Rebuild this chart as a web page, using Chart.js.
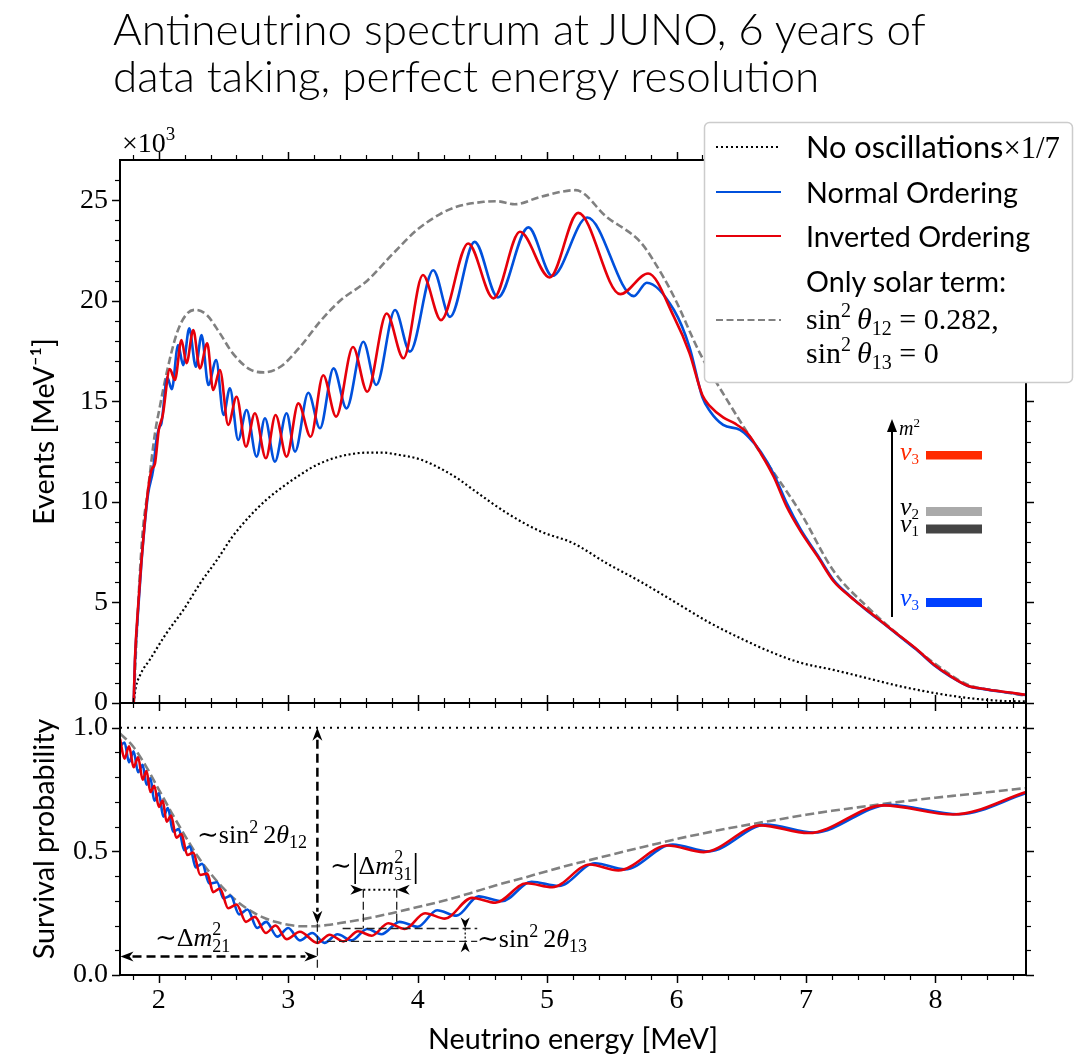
<!DOCTYPE html>
<html>
<head>
<meta charset="utf-8">
<title>Antineutrino spectrum at JUNO</title>
<script src="https://cdn.jsdelivr.net/npm/chart.js@4.4.1/dist/chart.umd.min.js"></script>
<style>
  html, body { margin: 0; padding: 0; background: #fff; }
  #wrap { position: relative; width: 1089px; height: 1061px; overflow: hidden; background: #fff; }
  #wrap canvas, #wrap svg { position: absolute; left: 0; top: 0; }
  svg text { fill: #000; }
  .sans { font-family: Lato, 'Liberation Sans', sans-serif; }
  .light { font-weight: 300; }
  .serif { font-family: 'Liberation Serif', 'DejaVu Serif', serif; }
</style>
</head>
<body>
<div id="wrap">
  <canvas id="spectrum" width="1089" height="1061"></canvas>
  <canvas id="survival" width="1089" height="1061"></canvas>
  <svg id="overlay" width="1089" height="1061" xmlns="http://www.w3.org/2000/svg">
    <text id="title1" class="sans light" x="113" y="45" font-size="38">Antineutrino spectrum at JUNO, 6 years of</text>
    <text id="title2" class="sans light" x="113" y="92" font-size="38">data taking, perfect energy resolution</text>
    <text class="serif" x="122" y="152" font-size="28">×10<tspan dy="-12" font-size="19">3</tspan></text>

    <!-- legend -->
    <rect x="704.5" y="122.5" width="368" height="260" rx="5" fill="#fff" stroke="#cccccc" stroke-width="1.5"/>
    <line x1="716" y1="147" x2="781" y2="147" stroke="#000" stroke-width="2" stroke-dasharray="2 3"/>
    <line x1="716" y1="192" x2="781" y2="192" stroke="#0050dc" stroke-width="2.2"/>
    <line x1="716" y1="236" x2="781" y2="236" stroke="#e6000a" stroke-width="2.2"/>
    <line x1="716" y1="320" x2="781" y2="320" stroke="#808080" stroke-width="2.2" stroke-dasharray="7 3.5"/>
    <text id="leg1" class="sans" x="806" y="158" font-size="27">No oscillations<tspan class="serif">×1/7</tspan></text>
    <text id="leg2" class="sans" x="806" y="203" font-size="27">Normal Ordering</text>
    <text id="leg3" class="sans" x="806" y="247" font-size="27">Inverted Ordering</text>
    <text id="leg4" class="sans" x="806" y="292" font-size="27">Only solar term:</text>
    <text class="serif" x="806" y="329" font-size="30">sin<tspan dy="-12" font-size="20">2</tspan><tspan dy="12" dx="6" font-style="italic">θ</tspan><tspan dy="6" font-size="20">12</tspan><tspan dy="-6"> = 0.282,</tspan></text>
    <text class="serif" x="806" y="363" font-size="30">sin<tspan dy="-12" font-size="20">2</tspan><tspan dy="12" dx="6" font-style="italic">θ</tspan><tspan dy="6" font-size="20">13</tspan><tspan dy="-6"> = 0</tspan></text>

    <!-- mass ordering inset -->
    <line x1="892" y1="617" x2="892" y2="430" stroke="#000" stroke-width="2"/>
    <path d="M892 419 L887 432 L897 432 Z" fill="#000"/>
    <text class="serif" font-style="italic" x="899" y="435" font-size="20">m<tspan dy="-8" font-size="13" font-style="normal">2</tspan></text>
    <rect x="926" y="451" width="56" height="8.5" fill="#ff2a00"/>
    <rect x="926" y="507" width="56" height="9" fill="#aaaaaa"/>
    <rect x="926" y="524.5" width="56" height="9" fill="#444444"/>
    <rect x="926" y="598" width="56" height="9" fill="#0040ff"/>
    <text class="serif" font-style="italic" x="900" y="460" font-size="26" style="fill:#ff2a00">ν<tspan dy="4" font-size="15" font-style="normal" style="fill:#ff2a00">3</tspan></text>
    <text class="serif" font-style="italic" x="900" y="515" font-size="26">ν<tspan dy="4" font-size="15" font-style="normal">2</tspan></text>
    <text class="serif" font-style="italic" x="900" y="532" font-size="26">ν<tspan dy="4" font-size="15" font-style="normal">1</tspan></text>
    <text class="serif" font-style="italic" x="900" y="606" font-size="26" style="fill:#0040ff">ν<tspan dy="4" font-size="15" font-style="normal" style="fill:#0040ff">3</tspan></text>

    <!-- survival probability annotations -->
    <text class="serif" x="197" y="843" font-size="26">∼sin<tspan dy="-10" font-size="18">2</tspan><tspan dy="10" dx="5">2</tspan><tspan font-style="italic">θ</tspan><tspan dy="5" font-size="18">12</tspan></text>
    <text class="serif" x="155" y="946" font-size="26">∼Δ<tspan font-style="italic">m</tspan><tspan dy="-11" font-size="18">2</tspan><tspan dx="-9" dy="17" font-size="18">21</tspan></text>
    <text class="serif" x="330" y="874" font-size="26">∼<tspan font-size="34" dy="3">|</tspan><tspan dy="-3">Δ</tspan><tspan font-style="italic">m</tspan><tspan dy="-11" font-size="18">2</tspan><tspan dx="-9" dy="17" font-size="18">31</tspan><tspan font-size="34" dy="-3">|</tspan></text>
    <text class="serif" x="477" y="947" font-size="26">∼sin<tspan dy="-10" font-size="18">2</tspan><tspan dy="10" dx="5">2</tspan><tspan font-style="italic">θ</tspan><tspan dy="5" font-size="18">13</tspan></text>
  </svg>
</div>
<script>
// ---- top panel: events per MeV, in units of 10^3 ----
const noOscE = [1.806, 1.82, 1.86, 1.93, 2.06, 2.19, 2.32, 2.45, 2.57, 2.70, 2.83, 2.96, 3.09, 3.22, 3.35, 3.48, 3.61, 3.73, 3.86, 3.99, 4.12, 4.30, 4.43, 4.69, 4.95, 5.20, 5.46, 5.72, 5.98, 6.24, 6.49, 6.75, 6.96, 7.21, 7.47, 7.73, 7.99, 8.25, 8.50, 8.70];
const noOscN = [0, 0.7, 1.45, 2.15, 3.48, 4.63, 5.96, 7.12, 8.28, 9.27, 10.1, 10.76, 11.34, 11.84, 12.17, 12.37, 12.45, 12.45, 12.33, 12.17, 11.84, 11.2, 10.6, 9.44, 8.53, 7.95, 6.95, 6.04, 5.05, 4.05, 3.23, 2.48, 2.0, 1.65, 1.24, 0.83, 0.5, 0.25, 0.11, 0.08];

const solarE = [1.806, 1.83, 1.87, 1.92, 1.97, 2.01, 2.06, 2.14, 2.21, 2.28, 2.37, 2.47, 2.57, 2.70, 2.81, 2.94, 3.09, 3.25, 3.40, 3.61, 3.81, 3.99, 4.17, 4.30, 4.51, 4.61, 4.75, 4.95, 5.22, 5.46, 5.72, 5.82, 5.98, 6.18, 6.39, 6.65, 6.96, 7.21, 7.47, 7.73, 7.99, 8.25, 8.50, 8.70];
const solarN = [0, 3.5, 8.1, 10.8, 13.4, 14.8, 16.4, 18.4, 19.3, 19.55, 19.3, 18.4, 17.4, 16.6, 16.44, 16.72, 17.7, 19.0, 20.0, 21.0, 22.35, 23.5, 24.3, 24.67, 24.92, 24.95, 24.8, 25.17, 25.5, 24.17, 22.93, 22.02, 20.2, 17.4, 15.07, 12.42, 9.44, 6.6, 4.8, 3.31, 1.99, 0.91, 0.58, 0.36];

const normalE = [1.806, 1.815, 1.84, 1.866, 1.89, 1.917, 1.956, 1.98, 2.003, 2.02, 2.065, 2.10, 2.149, 2.188, 2.235, 2.286, 2.33, 2.383, 2.443, 2.50, 2.549, 2.613, 2.678, 2.755, 2.82, 2.897, 2.987, 3.052, 3.155, 3.245, 3.35, 3.45, 3.58, 3.68, 3.825, 3.94, 4.12, 4.25, 4.44, 4.62, 4.855, 5.04, 5.31, 5.67, 5.77, 5.98, 6.1, 6.2, 6.26, 6.36, 6.49, 6.56, 6.65, 6.75, 6.85, 6.96, 7.09, 7.215, 7.34, 7.47, 7.60, 7.73, 7.86, 7.99, 8.12, 8.25, 8.38, 8.50, 8.70];
const normalN = [0, 2.0, 4.6, 7.0, 8.8, 10.4, 11.6, 13.0, 13.7, 13.9, 16.2, 15.6, 17.8, 16.8, 18.63, 16.72, 18.3, 15.81, 17.05, 14.32, 15.65, 13.08, 14.57, 12.25, 14.16, 12.0, 14.41, 12.5, 15.43, 13.66, 16.64, 14.65, 17.96, 15.81, 19.54, 17.47, 21.52, 19.2, 22.93, 20.17, 23.65, 21.23, 24.14, 20.23, 20.9, 19.54, 17.7, 15.2, 14.5, 13.83, 13.58, 13.2, 12.5, 11.4, 9.95, 8.62, 7.35, 6.1, 5.32, 4.6, 3.95, 3.28, 2.62, 1.88, 1.30, 0.85, 0.69, 0.57, 0.40];

const invertedE = [1.806, 1.815, 1.84, 1.866, 1.89, 1.917, 1.944, 1.97, 2.0, 2.03, 2.085, 2.124, 2.175, 2.214, 2.266, 2.317, 2.374, 2.42, 2.472, 2.536, 2.601, 2.673, 2.742, 2.827, 2.902, 2.987, 3.078, 3.173, 3.27, 3.37, 3.50, 3.61, 3.76, 3.89, 4.04, 4.18, 4.39, 4.585, 4.79, 5.02, 5.24, 5.565, 5.78, 5.98, 6.1, 6.2, 6.26, 6.36, 6.45, 6.55, 6.65, 6.75, 6.85, 6.96, 7.09, 7.215, 7.34, 7.47, 7.60, 7.73, 7.86, 7.99, 8.12, 8.25, 8.38, 8.50, 8.70];
const invertedN = [0, 2.1, 4.8, 7.1, 8.9, 10.6, 11.6, 11.9, 13.6, 14.3, 16.6, 16.06, 18.05, 16.89, 18.54, 16.64, 17.88, 15.56, 16.56, 13.83, 15.23, 12.75, 14.41, 12.17, 14.32, 12.25, 14.9, 13.24, 16.3, 14.24, 17.7, 15.48, 19.37, 17.14, 21.28, 19.04, 22.85, 20.12, 23.43, 21.16, 24.37, 20.33, 21.36, 19.2, 17.4, 15.3, 14.75, 14.2, 13.9, 13.4, 12.42, 11.26, 9.77, 8.52, 7.28, 6.04, 5.30, 4.63, 3.97, 3.31, 2.65, 1.90, 1.32, 0.86, 0.70, 0.58, 0.41];

// ---- bottom panel: survival probability ----
const noOscPE = [1.7, 8.7];
const noOscP = [1.0, 1.0];

const solarPE = [1.70, 1.80, 1.90, 2.00, 2.10, 2.20, 2.30, 2.40, 2.50, 2.60, 2.70, 2.80, 2.90, 3.00, 3.10, 3.20, 3.30, 3.40, 3.60, 3.80, 4.00, 4.20, 4.40, 4.60, 4.80, 5.00, 5.20, 5.40, 5.60, 5.80, 6.00, 6.20, 6.40, 6.60, 6.80, 7.00, 7.20, 7.40, 7.60, 7.80, 8.00, 8.20, 8.40, 8.70];
const solarP = [0.977, 0.925, 0.845, 0.75, 0.655, 0.565, 0.48, 0.41, 0.35, 0.30, 0.262, 0.234, 0.215, 0.203, 0.197, 0.197, 0.202, 0.21, 0.228, 0.25, 0.275, 0.30, 0.33, 0.362, 0.39, 0.42, 0.448, 0.474, 0.50, 0.525, 0.55, 0.572, 0.593, 0.612, 0.63, 0.648, 0.664, 0.678, 0.692, 0.705, 0.717, 0.728, 0.739, 0.756];

const normalPE = [1.70, 1.735, 1.77, 1.805, 1.84, 1.875, 1.905, 1.935, 1.965, 2.0, 2.035, 2.07, 2.11, 2.155, 2.195, 2.24, 2.285, 2.335, 2.39, 2.45, 2.50, 2.555, 2.62, 2.685, 2.76, 2.83, 2.915, 3.00, 3.09, 3.185, 3.28, 3.38, 3.49, 3.61, 3.72, 3.86, 4.00, 4.15, 4.30, 4.47, 4.65, 4.88, 5.09, 5.37, 5.60, 5.97, 6.25, 6.69, 7.06, 7.64, 8.18, 8.70];
const normalP = [0.925, 0.94, 0.86, 0.905, 0.82, 0.85, 0.77, 0.795, 0.705, 0.735, 0.64, 0.675, 0.58, 0.59, 0.505, 0.52, 0.435, 0.45, 0.37, 0.375, 0.31, 0.32, 0.245, 0.265, 0.19, 0.215, 0.155, 0.19, 0.14, 0.17, 0.13, 0.165, 0.14, 0.186, 0.165, 0.215, 0.195, 0.262, 0.24, 0.318, 0.298, 0.377, 0.36, 0.452, 0.427, 0.528, 0.50, 0.608, 0.576, 0.688, 0.65, 0.735];

const invertedPE = [1.70, 1.735, 1.77, 1.805, 1.84, 1.875, 1.905, 1.935, 1.965, 2.0, 2.03, 2.06, 2.095, 2.135, 2.175, 2.22, 2.266, 2.32, 2.374, 2.42, 2.472, 2.536, 2.601, 2.673, 2.742, 2.827, 2.902, 2.987, 3.09, 3.225, 3.32, 3.425, 3.54, 3.645, 3.773, 3.90, 4.057, 4.21, 4.42, 4.60, 4.84, 5.04, 5.33, 5.55, 5.93, 6.21, 6.65, 7.02, 7.60, 8.14, 8.70];
const invertedP = [0.955, 0.875, 0.925, 0.84, 0.88, 0.79, 0.825, 0.74, 0.765, 0.68, 0.705, 0.62, 0.645, 0.555, 0.57, 0.485, 0.495, 0.405, 0.41, 0.335, 0.35, 0.27, 0.285, 0.215, 0.235, 0.17, 0.20, 0.145, 0.175, 0.13, 0.163, 0.136, 0.177, 0.159, 0.209, 0.186, 0.25, 0.228, 0.312, 0.292, 0.371, 0.355, 0.447, 0.423, 0.524, 0.497, 0.605, 0.574, 0.686, 0.649, 0.74];

// ---- ticks ----
const xTicks = [2, 3, 4, 5, 6, 7, 8];
const topYTicks = [0, 5, 10, 15, 20, 25];
const bottomYTicks = [0, 0.5, 1.0];

const RED = '#e6000a';
const BLUE = '#0050dc';
const GRAY = '#808080';
const SANS = 'Lato, "Liberation Sans", sans-serif';
const SERIF = '"Liberation Serif", "DejaVu Serif", serif';

const toXY = (xs, ys) => xs.map((x, i) => ({ x: x, y: ys[i] }));

function range(a, b, step) {
  const out = [];
  for (let v = a; v <= b + 1e-9; v += step) out.push(Math.round(v * 1000) / 1000);
  return out;
}
const xMinor = range(1.8, 8.6, 0.2).filter(v => Math.abs(v - Math.round(v)) > 1e-6);
const topYMinor = range(1, 26, 1).filter(v => v % 5 !== 0);
const bottomYMinor = range(0.1, 1.0, 0.1).filter(v => Math.abs(v - 0.5) > 1e-6 && Math.abs(v - 1) > 1e-6);

// fit font size so a string gets a given width
function fitSize(text, family, width) {
  const c = document.createElement('canvas').getContext('2d');
  c.font = '40px ' + family;
  return 40 * width / c.measureText(text).width;
}
const axisTitleSize = fitSize('Neutrino energy [MeV]', SANS, 290);

// outward tick marks on all four sides plus the frame
const frameTicks = {
  id: 'frameTicks',
  afterDraw(chart, args, opts) {
    const { ctx, chartArea: a, scales: { x, y } } = chart;
    ctx.save();
    ctx.strokeStyle = '#000';
    const seg = (x1, y1, x2, y2) => { ctx.beginPath(); ctx.moveTo(x1, y1); ctx.lineTo(x2, y2); ctx.stroke(); };
    const drawX = (vals, len) => vals.forEach(v => {
      const px = Math.round(x.getPixelForValue(v)) + 0.5;
      seg(px, a.top, px, a.top - len);
      seg(px, a.bottom, px, a.bottom + len);
    });
    const drawY = (vals, len) => vals.forEach(v => {
      const py = Math.round(y.getPixelForValue(v)) + 0.5;
      seg(a.left, py, a.left - len, py);
      seg(a.right, py, a.right + len, py);
    });
    ctx.lineWidth = 1.5;
    drawX(xTicks, 8);
    drawY(opts.yMajor, 8);
    ctx.lineWidth = 1.2;
    drawX(xMinor, 5);
    drawY(opts.yMinor, 5);
    ctx.lineWidth = 2;
    ctx.strokeRect(a.left, a.top, a.right - a.left, a.bottom - a.top);
    ctx.restore();
  }
};

function arrowHead(ctx, tx, ty, dx, dy, len, half) {
  const nx = -dy, ny = dx;
  const bx = tx - dx * len, by = ty - dy * len;
  ctx.beginPath();
  ctx.moveTo(tx, ty);
  ctx.lineTo(bx + nx * half, by + ny * half);
  ctx.lineTo(tx - dx * len * 0.7, ty - dy * len * 0.7);
  ctx.lineTo(bx - nx * half, by - ny * half);
  ctx.closePath();
  ctx.fill();
}

// arrows and guide lines of the survival probability panel (positions in data units)
const oscAnnotations = {
  id: 'oscAnnotations',
  afterDatasetsDraw(chart) {
    const { ctx, scales: { x, y } } = chart;
    const X = v => x.getPixelForValue(v), Y = v => y.getPixelForValue(v);
    const line = (x1, y1, x2, y2) => { ctx.beginPath(); ctx.moveTo(x1, y1); ctx.lineTo(x2, y2); ctx.stroke(); };
    ctx.save();
    ctx.strokeStyle = '#000';
    ctx.fillStyle = '#000';

    // thin dashed guides
    ctx.lineWidth = 1.3;
    ctx.setLineDash([8, 4]);
    ctx.strokeStyle = '#222';
    line(X(3.225), Y(0.207), X(3.225), Y(0.02));
    line(X(3.42), Y(0.188), X(4.46), Y(0.188));
    line(X(3.30), Y(0.136), X(4.46), Y(0.136));
    line(X(3.58), Y(0.345), X(3.58), Y(0.188));
    line(X(3.838), Y(0.345), X(3.838), Y(0.215));

    // bold dashed double arrows
    ctx.strokeStyle = '#000';
    ctx.lineWidth = 2.5;
    ctx.setLineDash([9, 5]);
    const ax = X(3.225), yTop = Y(1.0), yBot = Y(0.207);
    line(ax, yTop + 12, ax, yBot - 12);
    arrowHead(ctx, ax, yTop, 0, -1, 13, 5);
    arrowHead(ctx, ax, yBot, 0, 1, 13, 5);
    const hy = Y(0.075), hl = X(1.704), hr = X(3.225);
    line(hl + 12, hy, hr - 12, hy);
    arrowHead(ctx, hl, hy, -1, 0, 13, 5);
    arrowHead(ctx, hr, hy, 1, 0, 13, 5);

    // dotted |dm31| arrow, heads outside pointing in
    ctx.lineWidth = 2;
    ctx.setLineDash([2, 3]);
    const dy = Y(0.345), d1 = X(3.58), d2 = X(3.838);
    line(d1, dy, d2, dy);
    arrowHead(ctx, d1, dy, 1, 0, 13, 5);
    arrowHead(ctx, d2, dy, -1, 0, 13, 5);

    // theta13 marker
    const sx = X(4.367), s1 = Y(0.188), s2 = Y(0.136);
    ctx.lineWidth = 1.2;
    ctx.setLineDash([2, 2]);
    line(sx, s1, sx, s2);
    arrowHead(ctx, sx, s1, 0, 1, 11, 4.5);
    arrowHead(ctx, sx, s2, 0, -1, 11, 4.5);
    ctx.restore();
  }
};

Chart.defaults.color = '#000';

const baseOptions = () => ({
  responsive: false,
  animation: false,
  events: [],
  elements: {
    point: { radius: 0 },
    line: { cubicInterpolationMode: 'monotone', fill: false, borderCapStyle: 'butt', borderJoinStyle: 'round' }
  },
  plugins: { legend: { display: false }, tooltip: { enabled: false } }
});

const spectrumOptions = baseOptions();
spectrumOptions.layout = { padding: { left: 0, top: 160, right: 63, bottom: 358 } };
spectrumOptions.plugins.frameTicks = { yMajor: topYTicks, yMinor: topYMinor };
spectrumOptions.scales = {
  x: { type: 'linear', min: 1.7, max: 8.7, display: false },
  y: {
    type: 'linear', min: 0, max: 27,
    afterFit: s => { s.width = 120; },
    afterBuildTicks: s => { s.ticks = topYTicks.map(v => ({ value: v })); },
    grid: { display: false, drawTicks: false },
    border: { display: false },
    ticks: { font: { family: SERIF, size: 28 }, color: '#000', padding: 12 },
    title: { display: true, text: 'Events [MeV⁻¹]', color: '#000', font: { family: SANS, size: axisTitleSize }, padding: { top: 28 } }
  }
};

new Chart(document.getElementById('spectrum'), {
  type: 'line',
  data: {
    datasets: [
      { label: 'Inverted Ordering', data: toXY(invertedE, invertedN), borderColor: RED, borderWidth: 2.6, order: 0 },
      { label: 'Normal Ordering', data: toXY(normalE, normalN), borderColor: BLUE, borderWidth: 2.6, order: 1 },
      { label: 'Only solar term', data: toXY(solarE, solarN), borderColor: GRAY, borderWidth: 2.6, borderDash: [7.5, 3.5], order: 2 },
      { label: 'No oscillations ×1/7', data: toXY(noOscE, noOscN), borderColor: '#000', borderWidth: 2.2, borderDash: [2, 2.6], order: 3 }
    ]
  },
  options: spectrumOptions,
  plugins: [frameTicks]
});

const survivalOptions = baseOptions();
survivalOptions.layout = { padding: { left: 0, top: 703, right: 63, bottom: 0 } };
survivalOptions.plugins.frameTicks = { yMajor: bottomYTicks, yMinor: bottomYMinor };
survivalOptions.scales = {
  x: {
    type: 'linear', min: 1.7, max: 8.7,
    afterFit: s => { s.height = 86; },
    afterBuildTicks: s => { s.ticks = xTicks.map(v => ({ value: v })); },
    grid: { display: false, drawTicks: false },
    border: { display: false },
    ticks: { font: { family: SERIF, size: 28 }, color: '#000', padding: 9, maxRotation: 0 },
    title: { display: true, text: 'Neutrino energy [MeV]', color: '#000', font: { family: SANS, size: axisTitleSize }, padding: { top: 0, bottom: 4 } }
  },
  y: {
    type: 'linear', min: 0, max: 1.1,
    afterFit: s => { s.width = 120; },
    afterBuildTicks: s => { s.ticks = bottomYTicks.map(v => ({ value: v })); },
    grid: { display: false, drawTicks: false },
    border: { display: false },
    ticks: { font: { family: SERIF, size: 28 }, color: '#000', padding: 12, callback: v => v.toFixed(1) },
    title: { display: true, text: 'Survival probability', color: '#000', font: { family: SANS, size: axisTitleSize }, padding: { top: 28 } }
  }
};

new Chart(document.getElementById('survival'), {
  type: 'line',
  data: {
    datasets: [
      { label: 'Inverted Ordering', data: toXY(invertedPE, invertedP), borderColor: RED, borderWidth: 2.6, order: 0 },
      { label: 'Normal Ordering', data: toXY(normalPE, normalP), borderColor: BLUE, borderWidth: 2.6, order: 1 },
      { label: 'Only solar term', data: toXY(solarPE, solarP), borderColor: GRAY, borderWidth: 2.6, borderDash: [9, 4], order: 2 },
      { label: 'No oscillations', data: toXY(noOscPE, noOscP), borderColor: '#000', borderWidth: 2, borderDash: [2, 5], order: 3 }
    ]
  },
  options: survivalOptions,
  plugins: [frameTicks, oscAnnotations]
});

// text sizing of the svg labels
function fitSvg(id, width) {
  const el = document.getElementById(id);
  const size = parseFloat(el.getAttribute('font-size'));
  const s = size * width / el.getComputedTextLength();
  el.setAttribute('font-size', s.toFixed(2));
  return s;
}
const tSize = fitSvg('title1', 813);
document.getElementById('title2').setAttribute('font-size', tSize.toFixed(2));
const lSize = fitSvg('leg2', 212);
['leg3', 'leg4'].forEach(id => document.getElementById(id).setAttribute('font-size', lSize.toFixed(2)));
fitSvg('leg1', 254);
</script>
</body>
</html>
